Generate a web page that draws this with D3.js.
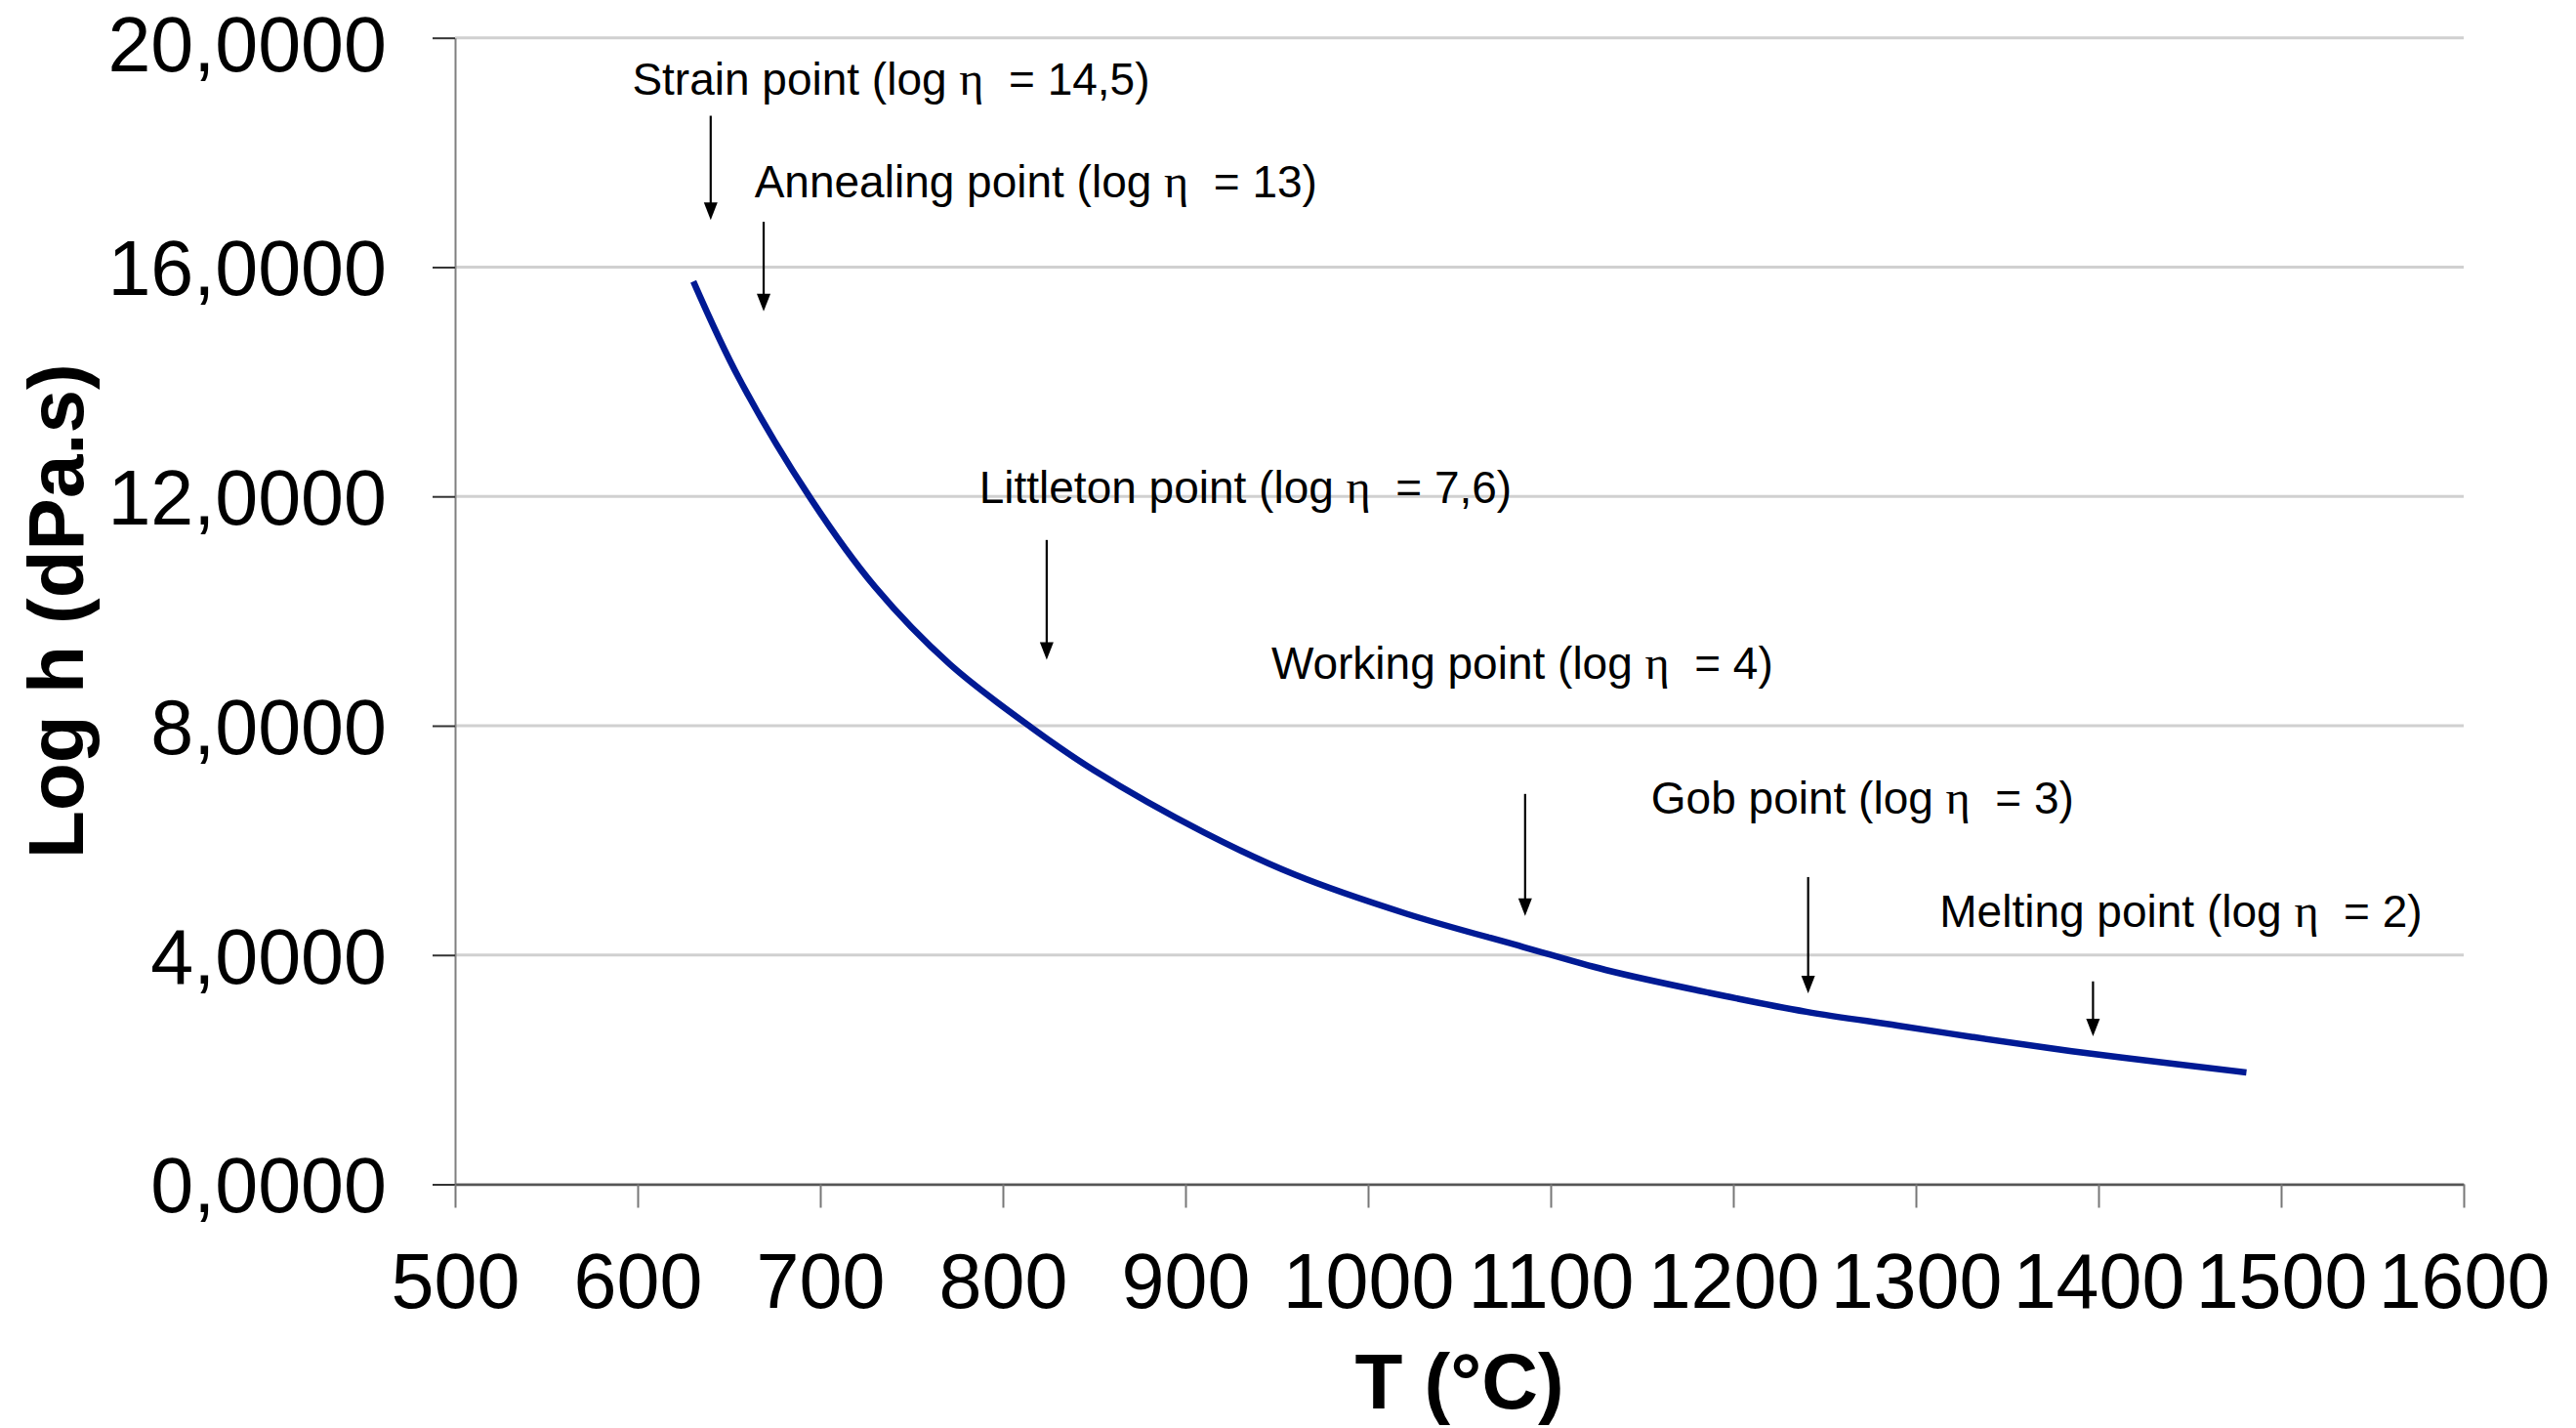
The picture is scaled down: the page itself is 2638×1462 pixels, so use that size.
<!DOCTYPE html>
<html>
<head>
<meta charset="utf-8">
<script src="https://cdn.jsdelivr.net/npm/d3@7"></script>
<style>
  html, body { margin: 0; padding: 0; background: #ffffff; }
  svg { display: block; }
  text { font-family: "Liberation Sans", Arial, Helvetica, sans-serif; fill: #000; }
</style>
</head>
<body>
<svg id="chart" width="2638" height="1462"></svg>
<script>
// Viscosity curve of the glass: temperature (°C) against log η (dPa.s)
const temperature  = [630.5, 655.5, 695, 730, 771, 816, 850, 910, 960, 1021, 1085, 1130, 1187, 1240, 1290, 1331, 1372, 1413, 1481];
const logViscosity = [15.75, 14.06, 11.95, 10.42, 9.07, 7.96, 7.22, 6.14, 5.40, 4.72, 4.14, 3.74, 3.34, 3.01, 2.77, 2.57, 2.38, 2.21, 1.95];

// Axis ticks
const xTickValues = [500, 600, 700, 800, 900, 1000, 1100, 1200, 1300, 1400, 1500, 1600];
const yTickValues = [0, 4, 8, 12, 16, 20];
const yTickLabels = ["0,0000", "4,0000", "8,0000", "12,0000", "16,0000", "20,0000"];

// Fixed viscosity points: name, log η value, arrow (T, from, to) and label anchor (T, log η)
const pointNames  = ["Strain point", "Annealing point", "Littleton point", "Working point", "Gob point", "Melting point"];
const pointLogEta = ["14,5", "13", "7,6", "4", "3", "2"];
const arrowT      = [640, 669, 824, 1086, 1241, 1397];
const arrowFrom   = [18.64, 16.79, 11.24, 6.81, 5.36, 3.54];
const arrowTo     = [16.82, 15.23, 9.15, 4.68, 3.33, 2.58];
const labelT      = [597, 664, 787, 947, 1155, 1313];
const labelLog    = [19.00, 17.21, 11.88, 8.82, 6.47, 4.49];

const svg = d3.select("#chart");
const plot = { left: 466, right: 2523, top: 38.7, bottom: 1212.5 };

const x = d3.scaleLinear().domain([500, 1600]).range([plot.left, plot.right]);
const y = d3.scaleLinear().domain([0, 20]).range([plot.bottom, plot.top]);

svg.append("rect").attr("width", 2638).attr("height", 1462).attr("fill", "#ffffff");

// Horizontal gridlines
svg.append("g")
  .selectAll("line")
  .data(yTickValues)
  .join("line")
  .attr("x1", plot.left).attr("x2", plot.right)
  .attr("y1", d => y(d)).attr("y2", d => y(d))
  .attr("stroke", "#d0d0d0")
  .attr("stroke-width", 3);

// Y axis
const yAxis = svg.append("g")
  .attr("transform", `translate(${plot.left},0)`)
  .call(d3.axisLeft(y)
    .tickValues(yTickValues)
    .tickFormat((d, i) => yTickLabels[i])
    .tickSize(23)
    .tickSizeOuter(0)
    .tickPadding(47));
yAxis.select(".domain").attr("stroke", "#808080").attr("stroke-width", 2);
yAxis.selectAll(".tick line").attr("stroke", "#333").attr("stroke-width", 2);
yAxis.selectAll(".tick text")
  .attr("font-size", 79)
  .attr("font-family", "Liberation Sans, Arial, sans-serif")
  .attr("fill", "#000")
  .attr("dy", "0.36em");
// keep the topmost label's box inside the page
yAxis.selectAll(".tick text").filter(d => d === 20).attr("dy", "0.43em");

// X axis
const xAxis = svg.append("g")
  .attr("transform", `translate(0,${plot.bottom})`)
  .call(d3.axisBottom(x)
    .tickValues(xTickValues)
    .tickFormat(d3.format("d"))
    .tickSize(24)
    .tickSizeOuter(0)
    .tickPadding(46));
xAxis.select(".domain").attr("stroke", "#555").attr("stroke-width", 2.5);
xAxis.selectAll(".tick line").attr("stroke", "#777").attr("stroke-width", 2);
xAxis.selectAll(".tick text")
  .attr("font-size", 79)
  .attr("font-family", "Liberation Sans, Arial, sans-serif")
  .attr("fill", "#000");

// Axis titles
svg.append("text")
  .attr("transform", `translate(85,${(plot.top + plot.bottom) / 2}) rotate(-90)`)
  .attr("text-anchor", "middle")
  .attr("font-size", 80)
  .attr("font-weight", "bold")
  .text("Log h (dPa.s)");

svg.append("text")
  .attr("x", (plot.left + plot.right) / 2)
  .attr("y", 1442)
  .attr("text-anchor", "middle")
  .attr("font-size", 80)
  .attr("font-weight", "bold")
  .text("T (°C)");

// Viscosity curve
const curveData = temperature.map((t, i) => ({ t, v: logViscosity[i] }));
svg.append("path")
  .datum(curveData)
  .attr("fill", "none")
  .attr("stroke", "#001a94")
  .attr("stroke-width", 6.5)
  .attr("stroke-linejoin", "round")
  .attr("d", d3.line().x(d => x(d.t)).y(d => y(d.v)).curve(d3.curveCatmullRom.alpha(0.5)));

// Annotations: labels and downward arrows
const notes = pointNames.map((name, i) => ({
  name, eta: pointLogEta[i],
  at: arrowT[i], from: arrowFrom[i], to: arrowTo[i],
  lt: labelT[i], lv: labelLog[i]
}));

const noteG = svg.append("g");
const headLen = 18, headHalf = 7;

noteG.selectAll("line.arrow")
  .data(notes)
  .join("line")
  .attr("class", "arrow")
  .attr("x1", d => x(d.at)).attr("x2", d => x(d.at))
  .attr("y1", d => y(d.from)).attr("y2", d => y(d.to) - headLen + 1)
  .attr("stroke", "#000")
  .attr("stroke-width", 2.2);

noteG.selectAll("path.head")
  .data(notes)
  .join("path")
  .attr("class", "head")
  .attr("fill", "#000")
  .attr("d", d => {
    const cx = x(d.at), ty = y(d.to);
    return `M${cx - headHalf},${ty - headLen}L${cx + headHalf},${ty - headLen}L${cx},${ty}Z`;
  });

const labels = noteG.selectAll("text.note")
  .data(notes)
  .join("text")
  .attr("class", "note")
  .attr("x", d => x(d.lt))
  .attr("y", d => y(d.lv))
  .attr("font-size", 46)
  .style("white-space", "pre")
  .attr("xml:space", "preserve");

labels.append("tspan").text(d => `${d.name} (log `);
labels.append("tspan")
  .attr("font-family", "Liberation Serif, 'Times New Roman', serif")
  .attr("font-size", 48)
  .text("η");
labels.append("tspan").text(d => `  = ${d.eta})`);
</script>
</body>
</html>
